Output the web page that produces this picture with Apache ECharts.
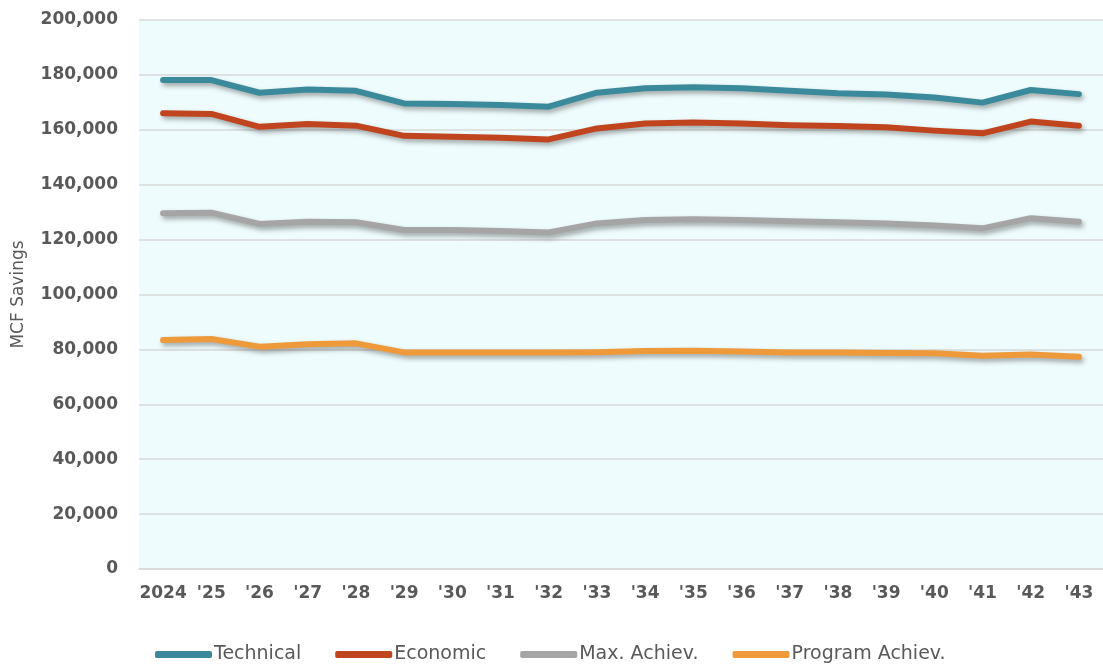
<!DOCTYPE html>
<html>
<head>
<meta charset="utf-8">
<script src="https://cdn.jsdelivr.net/npm/echarts@6/dist/echarts.min.js"></script>
<style>
  html, body { margin: 0; padding: 0; background: #ffffff; }
  #chart { width: 1103px; height: 667px; }
</style>
</head>
<body>
<div id="chart"></div>
<script>
// Years on the horizontal axis
const years = ['2024', "'25", "'26", "'27", "'28", "'29", "'30", "'31", "'32", "'33",
               "'34", "'35", "'36", "'37", "'38", "'39", "'40", "'41", "'42", "'43"];

// Savings potential by scenario (MCF)
const technical = [178100, 178100, 173500, 174700, 174200, 169600, 169400, 169000, 168400, 173500,
                   175100, 175500, 175100, 174200, 173300, 172900, 171800, 169900, 174500, 173000];
const economic = [166000, 165800, 161100, 162100, 161500, 157800, 157500, 157100, 156500, 160500,
                  162300, 162700, 162300, 161700, 161400, 160900, 159700, 158700, 163000, 161500];
const maxAchiev = [129600, 129800, 125700, 126500, 126300, 123500, 123500, 123100, 122600, 125900,
                   127100, 127400, 127100, 126700, 126300, 125900, 125100, 124100, 127800, 126500];
const programAchiev = [83400, 83800, 81000, 81900, 82200, 78900, 78900, 78900, 78900, 79000,
                       79400, 79500, 79200, 78900, 78900, 78700, 78600, 77700, 78100, 77300];

const seriesNames = ['Technical', 'Economic', 'Max. Achiev.', 'Program Achiev.'];
const seriesColors = ['#3b8a9b', '#c0441e', '#a5a5a5', '#ee9a3a'];
const seriesData = [technical, economic, maxAchiev, programAchiev];

const labelColor = '#595959';
const gridColor = '#d9d9d9';

const chart = echarts.init(document.getElementById('chart'), null, { renderer: 'canvas' });

chart.setOption({
  animation: false,
  backgroundColor: '#ffffff',
  grid: {
    left: 139,
    top: 20,
    bottom: 98,
    width: 968,
    show: true,
    backgroundColor: '#effcfd',
    borderWidth: 0
  },
  legend: {
    left: 150,
    top: 640,
    itemWidth: 57,
    itemHeight: 7,
    itemGap: 34,
    icon: 'roundRect',
    textStyle: { fontFamily: 'DejaVu Sans', fontSize: 19, color: labelColor, padding: [0, 0, 0, -3] },
    data: seriesNames
  },
  xAxis: {
    type: 'category',
    data: years,
    boundaryGap: true,
    axisLine: { show: true, lineStyle: { color: gridColor, width: 1.5 } },
    axisTick: { show: false },
    axisLabel: {
      color: labelColor,
      fontFamily: 'DejaVu Sans',
      fontWeight: 'bold',
      fontSize: 17,
      margin: 16,
      interval: 0
    }
  },
  yAxis: {
    type: 'value',
    min: 0,
    max: 200000,
    interval: 20000,
    name: 'MCF Savings',
    nameLocation: 'middle',
    nameRotate: 90,
    nameGap: 112,
    nameTextStyle: { fontFamily: 'DejaVu Sans', fontSize: 17, color: labelColor },
    axisLine: { show: false },
    axisTick: { show: false },
    splitLine: { lineStyle: { color: gridColor, width: 1.5 } },
    axisLabel: {
      color: labelColor,
      fontFamily: 'DejaVu Sans',
      fontWeight: 'bold',
      fontSize: 17,
      margin: 21,
      formatter: v => v.toLocaleString('en-US')
    }
  },
  series: seriesNames.map((name, i) => ({
    name: name,
    type: 'line',
    data: seriesData[i],
    showSymbol: false,
    symbol: 'none',
    color: seriesColors[i],
    lineStyle: {
      color: seriesColors[i],
      width: 6,
      cap: 'round',
      join: 'round',
      shadowColor: 'rgba(0,0,0,0.35)',
      shadowBlur: 5,
      shadowOffsetX: 2,
      shadowOffsetY: 3
    }
  }))
});
</script>
</body>
</html>
